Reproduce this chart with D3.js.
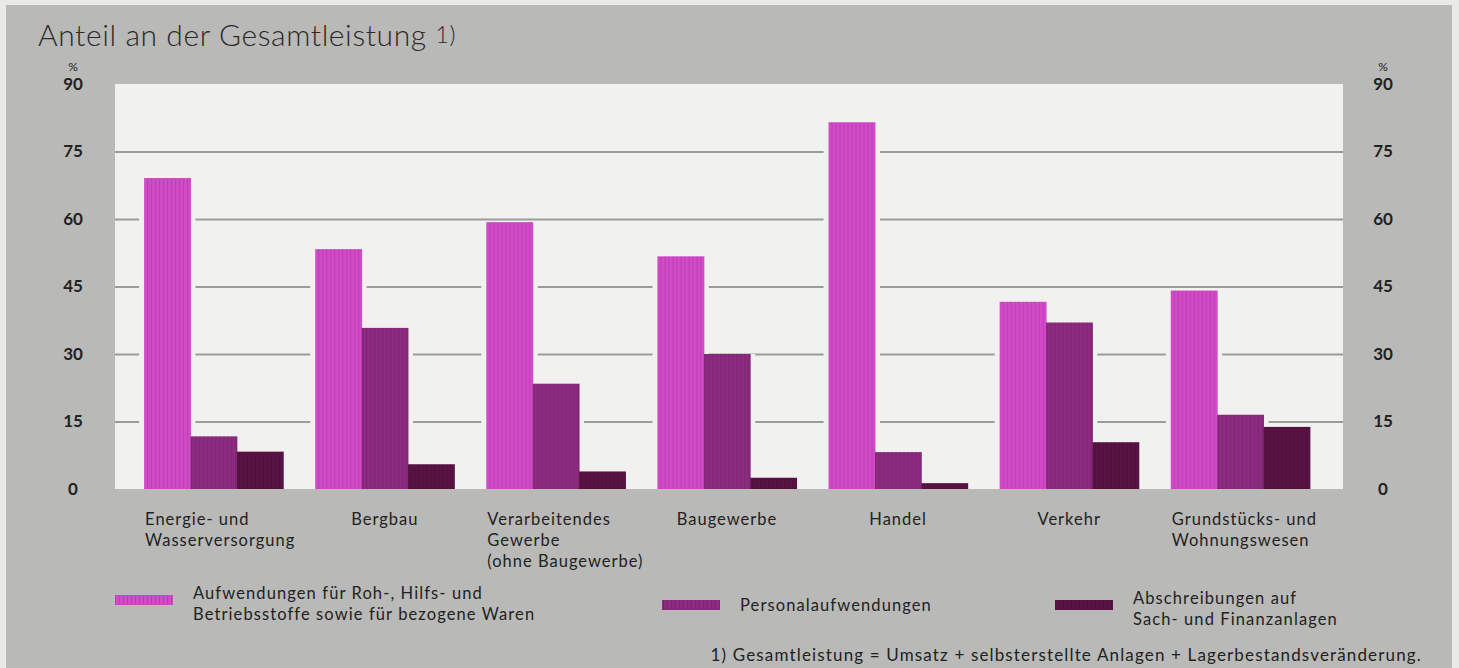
<html>
<head>
<meta charset="utf-8">
<script src="https://d3js.org/d3.v7.min.js"></script>
<style>
  body { margin: 0; background: #e9e9e6; }
  svg { display: block; }
  text { font-family: Lato, "Open Sans", sans-serif; fill: #222; }
</style>
</head>
<body>
<svg id="chart" width="1459" height="668"></svg>

<script>
// sectors (x categories)
var sectors = [
  ["Energie- und", "Wasserversorgung"],
  ["Bergbau"],
  ["Verarbeitendes", "Gewerbe", "(ohne Baugewerbe)"],
  ["Baugewerbe"],
  ["Handel"],
  ["Verkehr"],
  ["Grundstücks- und", "Wohnungswesen"]
];

// share of total output in %
var materialCosts = [69.1, 53.3, 59.3, 51.7, 81.5, 41.6, 44.1];
var personnelCosts = [11.7, 35.8, 23.4, 30.0, 8.2, 37.0, 16.5];
var depreciation = [8.3, 5.5, 3.9, 2.5, 1.3, 10.4, 13.8];

var seriesNames = [
  ["Aufwendungen für Roh-, Hilfs- und", "Betriebsstoffe sowie für bezogene Waren"],
  ["Personalaufwendungen"],
  ["Abschreibungen auf", "Sach- und Finanzanlagen"]
];
var seriesColors = ["#d24ac8", "#8c2b80", "#581243"];

var yTicks = [0, 15, 30, 45, 60, 75, 90];

var svg = d3.select("#chart");

// gray panel
svg.append("rect")
  .attr("x", 6).attr("y", 5)
  .attr("width", 1446).attr("height", 663)
  .attr("fill", "#b9b9b8");

// stripe patterns for the bars
var defs = svg.append("defs");
seriesColors.forEach(function(c, i) {
  var p = defs.append("pattern")
    .attr("id", "stripe" + i)
    .attr("patternUnits", "userSpaceOnUse")
    .attr("width", 4).attr("height", 10);
  p.append("rect").attr("width", 4).attr("height", 10).attr("fill", c);
  p.append("rect").attr("x", 3).attr("width", 1).attr("height", 10)
    .attr("fill", d3.color(c).darker(0.35));
});

var left = 115, right = 1343;
var y = d3.scaleLinear().domain([0, 90]).range([489, 84]);

var x = d3.scaleBand()
  .domain(d3.range(sectors.length))
  .range([127, 1327])
  .paddingInner(0.187)
  .paddingOuter(0.1);

var xs = d3.scaleBand()
  .domain([0, 1, 2])
  .range([0, x.bandwidth()]);

// plot area
svg.append("rect")
  .attr("x", left).attr("y", y(90))
  .attr("width", right - left).attr("height", y(0) - y(90))
  .attr("fill", "#f1f1ef");

// gridlines
svg.append("g")
  .attr("transform", "translate(" + left + ",0)")
  .call(d3.axisLeft(y).tickValues([15, 30, 45, 60, 75]).tickSize(-(right - left)).tickFormat(""))
  .call(function(g) {
    g.select(".domain").remove();
    g.selectAll("line").attr("stroke", "#9b9b9b").attr("stroke-width", 2);
  });

// tick labels, both sides
[73, 1383].forEach(function(pos) {
  svg.append("g")
    .attr("transform", "translate(" + pos + ",0)")
    .call(d3.axisLeft(y).tickValues(yTicks).tickSize(0).tickPadding(0))
    .call(function(g) {
      g.select(".domain").remove();
      g.selectAll("text")
        .attr("text-anchor", "middle")
        .attr("fill", "#2a2a2a")
        .style("font-family", "Lato, sans-serif")
        .style("font-size", "17px")
        .style("font-weight", "700");
    });
  svg.append("text")
    .attr("x", pos).attr("y", y(90) - 13)
    .attr("text-anchor", "middle")
    .style("font-size", "12px")
    .text("%");
});

var data = [materialCosts, personnelCosts, depreciation];

var groups = svg.selectAll(".grp")
  .data(sectors)
  .enter().append("g")
  .attr("class", "grp")
  .attr("transform", function(d, i) { return "translate(" + x(i) + ",0)"; });

// knock out gridlines next to the bars
groups.selectAll(".gap")
  .data(function(d, i) { return data.map(function(s) { return s[i]; }); })
  .enter().append("rect")
  .attr("x", function(d, j) { return xs(j) - 5; })
  .attr("y", function(d) { return y(d); })
  .attr("width", xs.bandwidth() + 10)
  .attr("height", function(d) { return y(0) - y(d); })
  .attr("fill", "#f1f1ef");

groups.selectAll(".bar")
  .data(function(d, i) { return data.map(function(s) { return s[i]; }); })
  .enter().append("rect")
  .attr("class", "bar")
  .attr("x", function(d, j) { return xs(j); })
  .attr("y", function(d) { return y(d); })
  .attr("width", xs.bandwidth() + 0.5)
  .attr("height", function(d) { return y(0) - y(d); })
  .attr("fill", function(d, j) { return "url(#stripe" + j + ")"; });

// category labels: single lines centred, multi-line blocks left aligned
groups.append("text")
  .attr("y", 525)
  .attr("x", function(d) { return d.length > 1 ? 1 : x.bandwidth() / 2; })
  .attr("text-anchor", function(d) { return d.length > 1 ? "start" : "middle"; })
  .style("font-size", "16.5px")
  .style("letter-spacing", "1px")
  .each(function(d) {
    var t = d3.select(this);
    d.forEach(function(line, k) {
      t.append("tspan")
        .attr("x", t.attr("x"))
        .attr("dy", k === 0 ? 0 : 21)
        .text(line);
    });
  });

// title
var title = svg.append("text")
  .attr("x", 38).attr("y", 46)
  .style("font-size", "30px")
  .style("font-weight", "300")
  .style("letter-spacing", "0.6px")
  .style("fill", "#2a2a2a");
title.append("tspan").text("Anteil an der Gesamtleistung ");
title.append("tspan").attr("dy", -3).style("font-size", "23px").text("1)");

// legend
var legendX = [115, 662, 1055];
var legendY = [600, 605, 605];
seriesNames.forEach(function(name, i) {
  svg.append("rect")
    .attr("x", legendX[i]).attr("y", legendY[i] - 5)
    .attr("width", 58).attr("height", 10)
    .attr("fill", "url(#stripe" + i + ")");
  var t = svg.append("text")
    .attr("x", legendX[i] + 78)
    .attr("y", legendY[i] + (name.length > 1 ? -1 : 6))
    .style("font-size", "16.5px")
    .style("letter-spacing", "1.1px");
  name.forEach(function(line, k) {
    t.append("tspan")
      .attr("x", legendX[i] + 78)
      .attr("dy", k === 0 ? 0 : 21)
      .text(line);
  });
});

// footnote
svg.append("text")
  .attr("x", 1422).attr("y", 661)
  .attr("text-anchor", "end")
  .style("font-size", "17px")
  .style("letter-spacing", "1.15px")
  .text("1) Gesamtleistung = Umsatz + selbsterstellte Anlagen + Lagerbestandsveränderung.");
</script>
</body>
</html>
